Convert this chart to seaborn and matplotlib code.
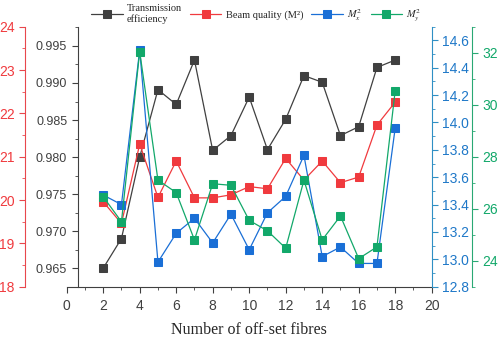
import numpy as np
import pandas as pd
import matplotlib
matplotlib.use("Agg")
import matplotlib.pyplot as plt
import seaborn as sns
from matplotlib.ticker import MultipleLocator, FormatStrFormatter

# data
fibres = [2, 3, 4, 5, 6, 7, 8, 9, 10, 11, 12, 13, 14, 15, 16, 17, 18]
efficiency = [0.965, 0.969, 0.980, 0.9891, 0.9871, 0.9931, 0.9809, 0.9829, 0.9881,
              0.9810, 0.9851, 0.9910, 0.9901, 0.9829, 0.9841, 0.9921, 0.9931]
beam_quality = [19.96, 19.46, 21.29, 20.06, 20.90, 20.05, 20.05, 20.12, 20.31,
                20.26, 20.96, 20.46, 20.90, 20.40, 20.53, 21.73, 22.26]
m2_x = [13.47, 13.40, 14.53, 12.98, 13.19, 13.30, 13.12, 13.33, 13.07,
        13.34, 13.46, 13.76, 13.02, 13.09, 12.97, 12.97, 13.96]
m2_y = [26.46, 25.50, 32.04, 27.10, 26.62, 24.80, 26.96, 26.90, 25.55,
        25.15, 24.48, 27.10, 24.80, 25.72, 24.08, 24.53, 30.54]

labels = ["Transmission\nefficiency", "Beam quality (M\u00b2)", "$M_x^2$", "$M_y^2$"]

sns.set_style("ticks")
plt.rcParams["font.family"] = ["Liberation Sans", "DejaVu Sans"]
plt.rcParams["mathtext.fontset"] = "stix"

c_black = "#404040"
c_red = "#f03a3e"
c_blue = "#1a6fd6"
c_green = "#12a86a"
ax_red_col = "#e8474c"
ax_blue_col = "#2f8fc4"
ax_green_col = "#2aa874"

fig = plt.figure(figsize=(4.98, 3.38), dpi=100)
ax = fig.add_axes([66.7 / 498, 1 - 286.7 / 338, 365 / 498, 260 / 338])
ax_red = ax.twinx()
ax_blue = ax.twinx()
ax_green = ax.twinx()

df = pd.DataFrame({"x": fibres, "eff": efficiency, "bq": beam_quality,
                   "mx": m2_x, "my": m2_y})

lw = 0.9
ms = 5.5
sns.lineplot(data=df, x="x", y="eff", ax=ax, color=c_black, marker="s",
             markersize=ms, markeredgecolor=c_black, linewidth=lw)
sns.lineplot(data=df, x="x", y="bq", ax=ax_red, color=c_red, marker="s",
             markersize=ms, markeredgecolor=c_red, linewidth=lw)
sns.lineplot(data=df, x="x", y="mx", ax=ax_blue, color=c_blue, marker="s",
             markersize=ms, markeredgecolor=c_blue, linewidth=lw)
sns.lineplot(data=df, x="x", y="my", ax=ax_green, color=c_green, marker="s",
             markersize=ms, markeredgecolor=c_green, linewidth=lw)

ax.set_xlim(0, 20)
ax.set_ylim(0.9625, 0.9976)
ax_red.set_ylim(18, 24)
ax_blue.set_ylim(12.8, 14.7)
ax_green.set_ylim(23, 33)

tick_fs = 9

# black (main) axis
ax.spines["top"].set_visible(False)
ax.spines["right"].set_visible(False)
ax.spines["left"].set_position(("axes", 0.03))
ax.spines["left"].set_color(c_black)
ax.spines["bottom"].set_color(c_black)
ax.xaxis.set_major_locator(MultipleLocator(2))
ax.xaxis.set_minor_locator(MultipleLocator(1))
ax.yaxis.set_major_locator(MultipleLocator(0.005))
ax.yaxis.set_minor_locator(MultipleLocator(0.0025))
ax.yaxis.set_major_formatter(FormatStrFormatter("%.3f"))
ax.tick_params(axis="both", which="major", length=4, labelsize=tick_fs, colors=c_black)
ax.tick_params(axis="x", which="major", labelsize=tick_fs + 1, pad=5)
ax.tick_params(axis="both", which="minor", length=2, colors=c_black)
ax.set_ylabel("")
ax.set_xlabel("Number of off-set fibres", family=["Liberation Serif"], fontsize=11.5,
              labelpad=6)

# red axis on the far left
for s in ["top", "right", "bottom"]:
    ax_red.spines[s].set_visible(False)
ax_red.spines["left"].set_visible(True)
ax_red.spines["left"].set_position(("axes", -0.114))
ax_red.spines["left"].set_color(ax_red_col)
ax_red.yaxis.set_ticks_position("left")
ax_red.yaxis.set_label_position("left")
ax_red.yaxis.set_major_locator(MultipleLocator(1))
ax_red.yaxis.set_minor_locator(MultipleLocator(0.5))
ax_red.tick_params(axis="y", which="major", length=4, labelsize=tick_fs + 1,
                   colors=ax_red_col, labelcolor=c_red)
ax_red.tick_params(axis="y", which="minor", length=2, colors=ax_red_col)
ax_red.set_ylabel("")

# blue axis on the right
for s in ["top", "left", "bottom"]:
    ax_blue.spines[s].set_visible(False)
ax_blue.spines["right"].set_color(ax_blue_col)
ax_blue.yaxis.set_major_locator(MultipleLocator(0.2))
ax_blue.yaxis.set_minor_locator(MultipleLocator(0.1))
ax_blue.yaxis.set_major_formatter(FormatStrFormatter("%.1f"))
ax_blue.tick_params(axis="y", which="major", length=4, labelsize=tick_fs + 1,
                    colors=ax_blue_col, labelcolor="#1f78c8")
ax_blue.tick_params(axis="y", which="minor", length=2, colors=ax_blue_col)
ax_blue.set_ylabel("")

# green axis on the far right
for s in ["top", "left", "bottom"]:
    ax_green.spines[s].set_visible(False)
ax_green.spines["right"].set_position(("axes", 1.11))
ax_green.spines["right"].set_color(ax_green_col)
ax_green.yaxis.set_major_locator(MultipleLocator(2))
ax_green.yaxis.set_minor_locator(MultipleLocator(1))
ax_green.tick_params(axis="y", which="major", length=4, labelsize=tick_fs + 1,
                     colors=ax_green_col, labelcolor=c_green)
ax_green.tick_params(axis="y", which="minor", length=2, colors=ax_green_col)
ax_green.set_ylabel("")

handles = [ax.lines[0], ax_red.lines[0], ax_blue.lines[0], ax_green.lines[0]]
fig.legend(handles, labels, loc="center", bbox_to_anchor=(0.515, 0.958),
           ncol=4, frameon=False, handlelength=3, columnspacing=0.8,
           handletextpad=0.4, prop={"family": "Liberation Serif", "size": 7.5})

fig.savefig("out.png", dpi=100)
